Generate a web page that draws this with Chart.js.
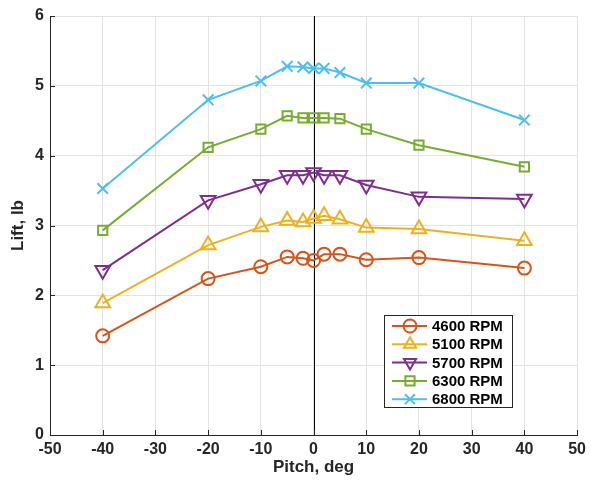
<!DOCTYPE html>
<html>
<head>
<meta charset="utf-8">
<script src="https://cdn.jsdelivr.net/npm/chart.js@4/dist/chart.umd.min.js"></script>
<style>
html,body{margin:0;padding:0;background:#fff;}
#c{display:block;}
</style>
</head>
<body>
<canvas id="c" width="591" height="483"></canvas>
<script>
const pitch = [-40, -20, -10, -5, -2, 0, 2, 5, 10, 20, 40];
const rpm4600 = [1.42, 2.24, 2.41, 2.55, 2.53, 2.50, 2.59, 2.59, 2.51, 2.54, 2.39];
const rpm5100 = [1.89, 2.72, 2.98, 3.07, 3.05, 3.10, 3.14, 3.09, 2.97, 2.95, 2.78];
const rpm5700 = [2.36, 3.36, 3.59, 3.72, 3.72, 3.76, 3.72, 3.72, 3.58, 3.41, 3.38];
const rpm6300 = [2.93, 4.12, 4.38, 4.57, 4.54, 4.54, 4.54, 4.53, 4.38, 4.15, 3.84];
const rpm6800 = [3.53, 4.80, 5.07, 5.28, 5.27, 5.25, 5.25, 5.19, 5.04, 5.04, 4.51];
const seriesLabels = ['4600 RPM', '5100 RPM', '5700 RPM', '6300 RPM', '6800 RPM'];
const xTitle = 'Pitch, deg';
const yTitle = 'Lift, lb';

const FONT = "'Liberation Sans', Arial, Helvetica, sans-serif";
const styles = [
  {color: '#D95319', pointStyle: 'circle', radius: 6.5, rotation: 0},
  {color: '#EDB120', pointStyle: 'triangle', radius: 8.5, rotation: 0},
  {color: '#7E2F8E', pointStyle: 'triangle', radius: 8.5, rotation: 180},
  {color: '#77AC30', pointStyle: 'rect', radius: 6.5, rotation: 0},
  {color: '#4DBEEE', pointStyle: 'crossRot', radius: 7.5, rotation: 0}
];
const values = [rpm4600, rpm5100, rpm5700, rpm6300, rpm6800];

const datasets = values.map((vals, i) => ({
  label: seriesLabels[i],
  data: pitch.map((p, j) => ({x: p, y: vals[j]})),
  showLine: true,
  borderColor: styles[i].color,
  backgroundColor: 'rgba(0,0,0,0)',
  borderWidth: 2,
  pointStyle: styles[i].pointStyle,
  pointRadius: styles[i].radius,
  pointRotation: styles[i].rotation,
  pointBorderWidth: 2,
  pointBorderColor: styles[i].color,
  pointBackgroundColor: 'rgba(0,0,0,0)',
  pointHoverRadius: styles[i].radius
}));

const decor = {
  id: 'decor',
  beforeDatasetsDraw(chart) {
    const ctx = chart.ctx, ca = chart.chartArea;
    const xs = chart.scales.x;
    ctx.save();
    const x0 = xs.getPixelForValue(0);
    ctx.strokeStyle = '#000';
    ctx.lineWidth = 1;
    ctx.beginPath();
    ctx.moveTo(Math.round(x0) + 0.5, ca.top);
    ctx.lineTo(Math.round(x0) + 0.5, ca.bottom);
    ctx.stroke();
    ctx.restore();
  },
  afterDraw(chart) {
    const ctx = chart.ctx, ca = chart.chartArea;
    const xs = chart.scales.x, ys = chart.scales.y;
    ctx.save();
    ctx.strokeStyle = '#262626';
    ctx.lineWidth = 1;
    xs.ticks.forEach(t => {
      const px = Math.round(xs.getPixelForValue(t.value)) + 0.5;
      ctx.beginPath();
      ctx.moveTo(px, ca.bottom);
      ctx.lineTo(px, ca.bottom - 5);
      ctx.stroke();
    });
    ys.ticks.forEach(t => {
      const py = Math.round(ys.getPixelForValue(t.value)) + 0.5;
      ctx.beginPath();
      ctx.moveTo(ca.left, py);
      ctx.lineTo(ca.left + 5, py);
      ctx.stroke();
    });
    ctx.fillStyle = '#262626';
    ctx.font = 'bold 17px ' + FONT;
    ctx.textAlign = 'center';
    ctx.textBaseline = 'middle';
    ctx.fillText(xTitle, (ca.left + ca.right) / 2, 467);
    ctx.save();
    ctx.translate(18, (ca.top + ca.bottom) / 2);
    ctx.rotate(-Math.PI / 2);
    ctx.fillText(yTitle, 0, 0);
    ctx.restore();
    // legend
    const bx = 384, by = 315, bw = 128, bh = 92;
    ctx.fillStyle = '#fff';
    ctx.fillRect(bx, by, bw, bh);
    ctx.strokeStyle = '#262626';
    ctx.lineWidth = 1;
    ctx.strokeRect(bx + 0.5, by + 0.5, bw, bh);
    ctx.font = 'bold 15px ' + FONT;
    ctx.textAlign = 'left';
    ctx.textBaseline = 'middle';
    chart.data.datasets.forEach((ds, i) => {
      const yy = by + 11 + i * 18.3;
      ctx.strokeStyle = ds.borderColor;
      ctx.lineWidth = 2;
      ctx.beginPath();
      ctx.moveTo(bx + 8, yy);
      ctx.lineTo(bx + 43, yy);
      ctx.stroke();
      ctx.fillStyle = 'rgba(0,0,0,0)';
      Chart.helpers.drawPoint(ctx, {
        pointStyle: ds.pointStyle,
        radius: Math.min(ds.pointRadius, 7),
        rotation: ds.pointRotation,
        borderWidth: 2
      }, bx + 26, yy);
      ctx.fillStyle = '#000';
      ctx.fillText(ds.label, bx + 48, yy + 1);
    });
    ctx.restore();
  }
};

new Chart(document.getElementById('c'), {
  type: 'scatter',
  data: {datasets},
  options: {
    responsive: false,
    animation: false,
    layout: {padding: {top: 16, right: 10, left: 0, bottom: 0}},
    plugins: {legend: {display: false}, tooltip: {enabled: false}},
    scales: {
      x: {
        type: 'linear', min: -50, max: 50,
        ticks: {stepSize: 10, color: '#262626', padding: 5, font: {family: FONT, size: 16, weight: 'bold'}},
        grid: {color: '#e3e3e3', drawTicks: false, lineWidth: 1},
        border: {display: true, color: '#262626', width: 1},
        afterFit(s) { s.height = 48; }
      },
      y: {
        min: 0, max: 6,
        ticks: {stepSize: 1, color: '#262626', padding: 6, font: {family: FONT, size: 16, weight: 'bold'}},
        grid: {color: '#e3e3e3', drawTicks: false, lineWidth: 1},
        border: {display: true, color: '#262626', width: 1},
        afterFit(s) { s.width = 50; }
      }
    }
  },
  plugins: [decor]
});
</script>
</body>
</html>
